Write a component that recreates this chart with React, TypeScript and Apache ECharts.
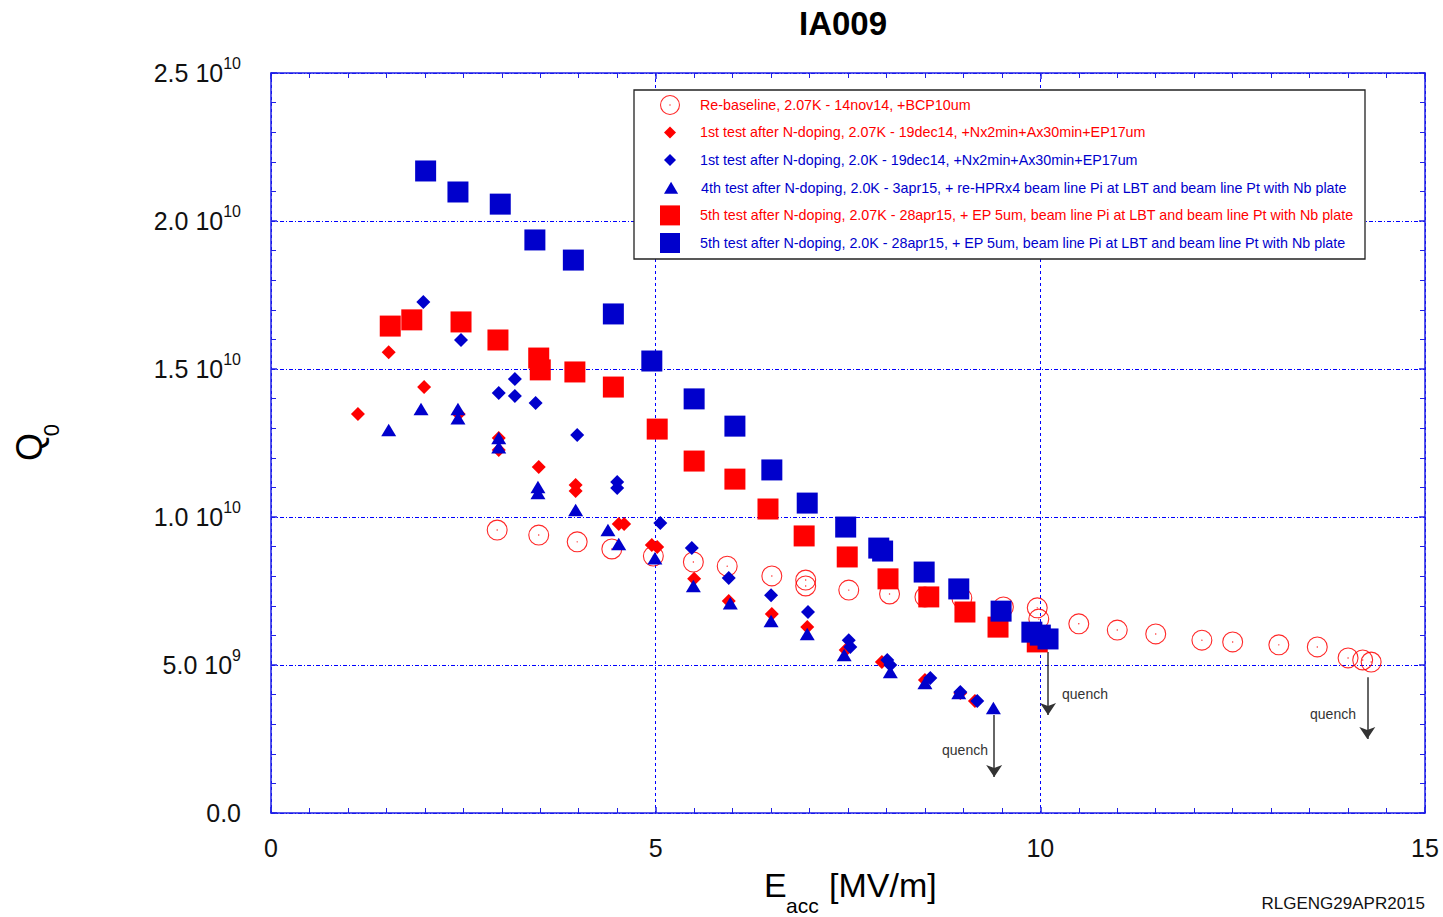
import React, { useEffect, useRef } from 'react';
import * as echarts from 'echarts';

// ---- data (E in MV/m, Q in units of 1e9) ----
const baselineE = [2.94, 3.48, 3.98, 4.43, 4.97, 5.49, 5.93, 6.51, 6.95, 6.95, 7.51, 8.04, 8.5, 8.98, 9.52, 9.96, 9.98, 10.5, 11.0, 11.5, 12.1, 12.5, 13.1, 13.6, 14.0, 14.19, 14.3];
const baselineQ = [9.56, 9.39, 9.16, 8.92, 8.68, 8.48, 8.34, 8.01, 7.87, 7.67, 7.53, 7.4, 7.3, 7.26, 6.96, 6.93, 6.55, 6.39, 6.18, 6.05, 5.84, 5.78, 5.68, 5.61, 5.24, 5.17, 5.1];

const dope1RedE = [1.13, 1.53, 1.99, 2.44, 2.96, 2.96, 3.48, 3.96, 3.96, 4.52, 4.59, 4.95, 5.02, 5.5, 5.95, 6.51, 6.97, 7.47, 7.94, 8.5, 8.96, 9.15];
const dope1RedQ = [13.48, 15.57, 14.39, 13.48, 12.67, 12.26, 11.69, 11.08, 10.88, 9.76, 9.76, 9.05, 8.99, 7.91, 7.16, 6.72, 6.28, 5.51, 5.1, 4.49, 4.05, 3.78];

const dope1BlueE = [1.98, 2.47, 2.96, 3.17, 3.17, 3.44, 3.98, 4.5, 4.5, 5.06, 5.47, 5.95, 6.5, 6.98, 7.51, 7.53, 8.01, 8.05, 8.57, 8.96, 9.18];
const dope1BlueQ = [17.26, 15.98, 14.19, 14.66, 14.09, 13.85, 12.77, 11.18, 10.98, 9.8, 8.95, 7.94, 7.36, 6.79, 5.84, 5.61, 5.17, 5.0, 4.56, 4.09, 3.78];

const test4E = [1.53, 1.95, 2.43, 2.43, 2.96, 2.96, 3.47, 3.47, 3.96, 4.38, 4.52, 4.99, 5.49, 5.97, 6.5, 6.97, 7.45, 8.05, 8.5, 8.94, 9.39];
const test4Q = [12.94, 13.65, 13.65, 13.34, 12.67, 12.36, 11.01, 10.81, 10.24, 9.56, 9.09, 8.61, 7.67, 7.09, 6.49, 6.05, 5.34, 4.76, 4.39, 4.05, 3.55];

const test5RedE = [1.55, 1.83, 2.47, 2.95, 3.48, 3.5, 3.95, 4.45, 5.02, 5.5, 6.03, 6.46, 6.93, 7.49, 8.02, 8.55, 9.02, 9.45, 9.96];
const test5RedQ = [16.45, 16.66, 16.59, 15.98, 15.37, 14.97, 14.9, 14.39, 12.97, 11.89, 11.28, 10.27, 9.36, 8.65, 7.91, 7.3, 6.79, 6.28, 5.78];

const test5BlueE = [2.01, 2.43, 2.98, 3.43, 3.93, 4.45, 4.95, 5.5, 6.03, 6.51, 6.97, 7.47, 7.9, 7.95, 8.49, 8.94, 9.49, 9.89, 10.0, 10.1];
const test5BlueQ = [21.69, 20.98, 20.57, 19.36, 18.68, 16.86, 15.27, 13.99, 13.07, 11.59, 10.47, 9.66, 8.95, 8.85, 8.14, 7.57, 6.82, 6.11, 6.01, 5.88];

// quench arrows: [E, Qstart, Qend] (Q in 1e9)
const quenchE = [9.4, 10.1, 14.25];
const quenchFrom = [3.31, 5.44, 4.59];
const quenchTo = [1.22, 3.31, 2.5];

const seriesNames = [
  'Re-baseline, 2.07K - 14nov14, +BCP10um',
  '1st test after N-doping, 2.07K - 19dec14, +Nx2min+Ax30min+EP17um',
  '1st test after N-doping, 2.0K - 19dec14, +Nx2min+Ax30min+EP17um',
  '4th test after N-doping, 2.0K - 3apr15, + re-HPRx4 beam line Pi at LBT and beam line Pt with Nb plate',
  '5th test after N-doping, 2.07K - 28apr15, + EP 5um, beam line Pi at LBT and beam line Pt with Nb plate',
  '5th test after N-doping, 2.0K - 28apr15, + EP 5um, beam line Pi at LBT and beam line Pt with Nb plate',
];

const xTickLabels = ['0', '5', '10', '15'];
const yTickMantissa = ['0.0', '5.0', '1.0', '1.5', '2.0', '2.5'];
const yTickExponent = ['', '9', '10', '10', '10', '10'];

// ---- styles ----
const RED = '#ff0000';
const BLUE = '#0000cc';
const AXIS = '#1f1fe6';
const GRID = '#0000ff';
const FONT = "'Liberation Sans', Arial, Helvetica, sans-serif";
const LEGEND_FS = 14.3;

const RING = 'path://M10,0A10,10,0,1,1,10,20A10,10,0,1,1,10,0ZM10,1.05A8.95,8.95,0,1,0,10,18.95A8.95,8.95,0,1,0,10,1.05ZM10,9.3A0.7,0.7,0,1,1,10,10.7A0.7,0.7,0,1,1,10,9.3Z';
const DIAMOND = 'path://M5,0L10,5L5,10L0,5Z';
const TRIANGLE = 'path://M5,0L10,8.5L0,8.5Z';
const SQUARE = 'path://M0,0L10,0L10,10L0,10Z';

const toPairs = (xs: number[], qs: number[]) => xs.map((x, i) => [x, qs[i] * 1e9]);

const seriesData = [
  toPairs(baselineE, baselineQ),
  toPairs(dope1RedE, dope1RedQ),
  toPairs(dope1BlueE, dope1BlueQ),
  toPairs(test4E, test4Q),
  toPairs(test5RedE, test5RedQ),
  toPairs(test5BlueE, test5BlueQ),
];
const seriesColors = [RED, RED, BLUE, BLUE, RED, BLUE];
const seriesSymbols = [RING, DIAMOND, DIAMOND, TRIANGLE, SQUARE, SQUARE];
const seriesSizes: any[] = [21, 14, 14, [15, 12.5], 21, 21];
const legendIconSizes = [20, 12, 12, 12, 20, 20];

export default function App() {
  const ref = useRef<HTMLDivElement>(null);

  useEffect(() => {
    if (!ref.current) return;
    const chart = echarts.init(ref.current, undefined, { renderer: 'svg' });

    const axisLineStyle = { color: AXIS, width: 1.5 };
    const baseX = {
      type: 'value',
      min: 0,
      max: 15,
      interval: 5,
      axisLine: { show: true, onZero: false, lineStyle: axisLineStyle },
      axisTick: { show: true, inside: true, length: 6, lineStyle: { color: AXIS, width: 1.5 } },
      minorTick: { show: true, splitNumber: 10, length: 5, lineStyle: { color: AXIS, width: 1 } },
    };
    const baseY = {
      type: 'value',
      min: 0,
      max: 2.5e10,
      interval: 5e9,
      axisLine: { show: true, onZero: false, lineStyle: axisLineStyle },
      axisTick: { show: true, inside: true, length: 6, lineStyle: { color: AXIS, width: 1.5 } },
      minorTick: { show: true, splitNumber: 5, length: 5, lineStyle: { color: AXIS, width: 1 } },
    };

    const series: any[] = seriesData.map((d, i) => ({
      name: seriesNames[i],
      type: 'scatter',
      data: d,
      symbol: seriesSymbols[i],
      symbolSize: seriesSizes[i],
      itemStyle: { color: seriesColors[i], opacity: i === 0 ? 0.85 : 1 },
      z: 2 + i,
      silent: true,
    }));

    series.push({
      name: 'quench',
      type: 'scatter',
      data: [],
      silent: true,
      markLine: {
        silent: true,
        symbol: ['none', 'arrow'],
        symbolSize: 12,
        label: { show: false },
        lineStyle: { color: '#333', width: 1.5, type: 'solid' },
        emphasis: { disabled: true },
        data: quenchE.map((e, i) => [
          { coord: [e, quenchFrom[i] * 1e9] },
          { coord: [e, quenchTo[i] * 1e9] },
        ]),
      },
    });

    // legend: the content box starts at the icon's left edge
    const legends = seriesNames.map((name, i) => {
      const h = legendIconSizes[i];
      const rowCenter = 105 + i * 27.6;
      return {
        data: [{ name, icon: seriesSymbols[i], textStyle: { color: seriesColors[i] } }],
        left: 670 - h / 2,
        top: rowCenter - Math.max(h, LEGEND_FS) / 2,
        itemWidth: 50,
        itemHeight: h,
        padding: 0,
        selectedMode: false,
        z: 20,
        textStyle: { fontSize: LEGEND_FS, fontFamily: FONT, color: seriesColors[i] },
      };
    });

    const quenchLabels = [
      { x: 965, y: 750 },
      { x: 1085, y: 694 },
      { x: 1333, y: 714 },
    ];

    chart.setOption({
      animation: false,
      backgroundColor: '#ffffff',
      textStyle: { fontFamily: FONT },
      grid: { left: 271, top: 73, width: 1154, height: 740 },
      xAxis: [
        {
          ...baseX,
          position: 'bottom',
          splitLine: { show: true, lineStyle: { color: GRID, type: [3, 3], width: 1 } },
          axisLabel: {
            margin: 22,
            fontSize: 25,
            color: '#111',
            fontFamily: FONT,
            formatter: (v: number) => xTickLabels[Math.round(v / 5)] ?? '',
          },
        },
        {
          ...baseX,
          position: 'top',
          splitLine: { show: false },
          axisLabel: { show: false },
        },
      ],
      yAxis: [
        {
          ...baseY,
          position: 'left',
          splitLine: { show: true, lineStyle: { color: GRID, type: [4, 2, 1, 2], width: 1 } },
          axisLabel: {
            margin: 30,
            formatter: (v: number) => {
              const i = Math.round(v / 5e9);
              const e = yTickExponent[i];
              return e ? `{m|${yTickMantissa[i]} 10}{s|${e}}` : `{m|${yTickMantissa[i]}}`;
            },
            rich: {
              m: { fontSize: 25, lineHeight: 36, verticalAlign: 'middle', color: '#111', fontFamily: FONT },
              s: { fontSize: 16, verticalAlign: 'top', color: '#111', fontFamily: FONT },
            },
          },
        },
        {
          ...baseY,
          position: 'right',
          splitLine: { show: false },
          axisLabel: { show: false },
        },
      ],
      legend: legends,
      series,
      graphic: [
        {
          type: 'rect',
          z: 10,
          shape: { x: 634, y: 90, width: 731, height: 169 },
          style: { fill: '#ffffff', stroke: '#222', lineWidth: 1.3 },
        },
        {
          type: 'text',
          x: 843,
          y: 23,
          style: { text: 'IA009', fontSize: 33, fontWeight: 'bold', fontFamily: FONT, fill: '#000', align: 'center', verticalAlign: 'middle' },
        },
        {
          type: 'text',
          x: 764,
          y: 885,
          style: { text: 'E', fontSize: 34, fontFamily: FONT, fill: '#000', align: 'left', verticalAlign: 'middle' },
        },
        {
          type: 'text',
          x: 786,
          y: 905,
          style: { text: 'acc', fontSize: 21, fontFamily: FONT, fill: '#000', align: 'left', verticalAlign: 'middle' },
        },
        {
          type: 'text',
          x: 829,
          y: 885,
          style: { text: '[MV/m]', fontSize: 34, fontFamily: FONT, fill: '#000', align: 'left', verticalAlign: 'middle' },
        },
        {
          type: 'text',
          x: 29,
          y: 447,
          rotation: Math.PI / 2,
          style: { text: 'Q', fontSize: 36, fontFamily: FONT, fill: '#000', align: 'center', verticalAlign: 'middle' },
        },
        {
          type: 'text',
          x: 51,
          y: 430,
          rotation: Math.PI / 2,
          style: { text: '0', fontSize: 22, fontFamily: FONT, fill: '#000', align: 'center', verticalAlign: 'middle' },
        },
        {
          type: 'text',
          x: 1425,
          y: 903,
          style: { text: 'RLGENG29APR2015', fontSize: 17, fontFamily: FONT, fill: '#111', align: 'right', verticalAlign: 'middle' },
        },
        ...quenchLabels.map((p) => ({
          type: 'text',
          x: p.x,
          y: p.y,
          z: 12,
          style: { text: 'quench', fontSize: 14, fontFamily: FONT, fill: '#333', align: 'center', verticalAlign: 'middle' },
        })),
      ],
    });

    return () => chart.dispose();
  }, []);

  return (
    <div
      ref={ref}
      style={{ position: 'fixed', left: 0, top: 0, width: 1443, height: 917, background: '#fff' }}
    />
  );
}
